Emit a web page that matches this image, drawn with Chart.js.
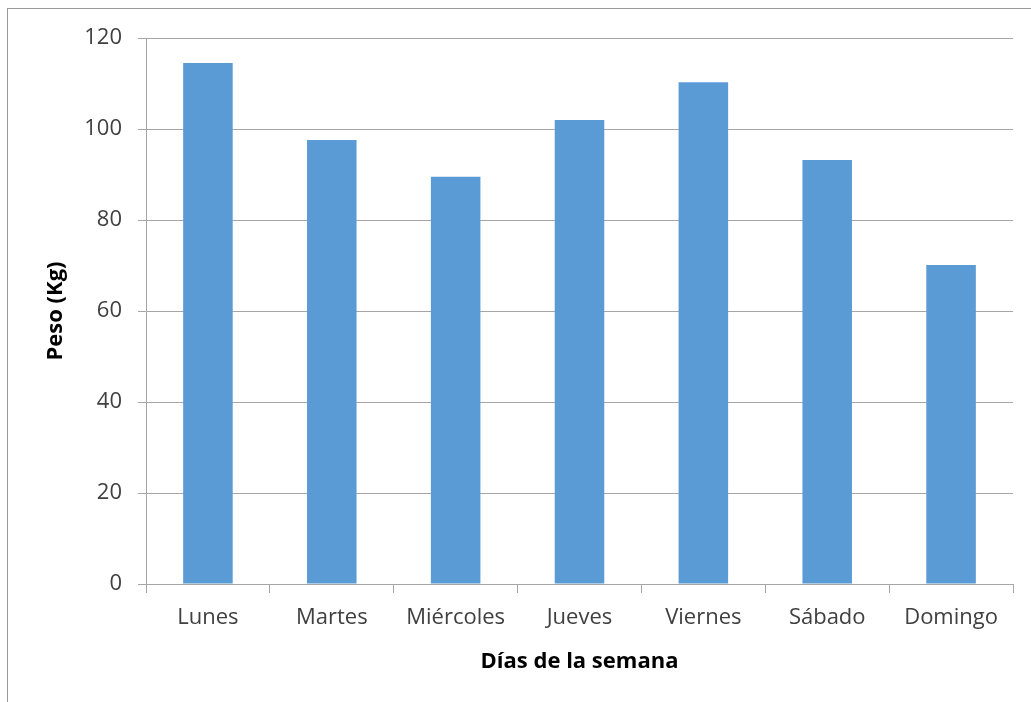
<!DOCTYPE html>
<html>
<head>
<meta charset="utf-8">
<script src="https://cdn.jsdelivr.net/npm/chart.js@4.4.1/dist/chart.umd.min.js"></script>
<style>
  html, body { margin: 0; padding: 0; background: #fff; }
  #wrap { position: relative; width: 1031px; height: 702px; }
</style>
</head>
<body>
<div id="wrap"><canvas id="chart" width="1031" height="702"></canvas></div>
<script>
const dias = ['Lunes', 'Martes', 'Miércoles', 'Jueves', 'Viernes', 'Sábado', 'Domingo'];
const peso = [114.5, 97.6, 89.5, 102, 110.3, 93.2, 70.1];

const FONT = '"Open Sans", Lato, sans-serif';

// thin frame around the whole chart
const chartFrame = {
  id: 'chartFrame',
  beforeDraw(chart) {
    const ctx = chart.ctx;
    ctx.save();
    ctx.strokeStyle = '#9a9a9a';
    ctx.lineWidth = 1;
    ctx.strokeRect(7.5, 8.5, 1200, 1000);
    ctx.restore();
  },
};

new Chart(document.getElementById('chart'), {
  type: 'bar',
  data: {
    labels: dias,
    datasets: [{
      data: peso,
      backgroundColor: '#5B9BD5',
      borderWidth: 0,
      categoryPercentage: 1,
      barPercentage: 0.4,
    }],
  },
  options: {
    responsive: false,
    animation: false,
    layout: { padding: { top: 38, right: 18, left: 0, bottom: 0 } },
    plugins: {
      legend: { display: false },
      tooltip: { enabled: false },
    },
    scales: {
      x: {
        afterFit: (scale) => { scale.height = 118; },
        grid: {
          offset: true,
          drawOnChartArea: false,
          drawTicks: true,
          tickLength: 9,
          color: '#a6a6a6',
        },
        border: { color: '#a6a6a6' },
        ticks: {
          color: '#404040',
          padding: 12,
          font: { family: FONT, size: 22 },
          maxRotation: 0,
        },
        title: {
          display: true,
          text: 'Días de la semana',
          color: '#000',
          font: { family: FONT, size: 22, weight: 'bold' },
          padding: { top: 0, bottom: 27 },
        },
      },
      y: {
        min: 0,
        max: 120,
        afterFit: (scale) => { scale.width = 146; },
        grid: {
          color: '#a6a6a6',
          tickLength: 8,
        },
        border: { color: '#a6a6a6' },
        ticks: {
          stepSize: 20,
          color: '#404040',
          padding: 16,
          font: { family: FONT, size: 22 },
        },
        title: {
          display: true,
          text: 'Peso (Kg)',
          color: '#000',
          font: { family: FONT, size: 22, weight: 'bold' },
          padding: { top: 43, bottom: 0 },
        },
      },
    },
  },
  plugins: [chartFrame],
});
</script>
</body>
</html>
